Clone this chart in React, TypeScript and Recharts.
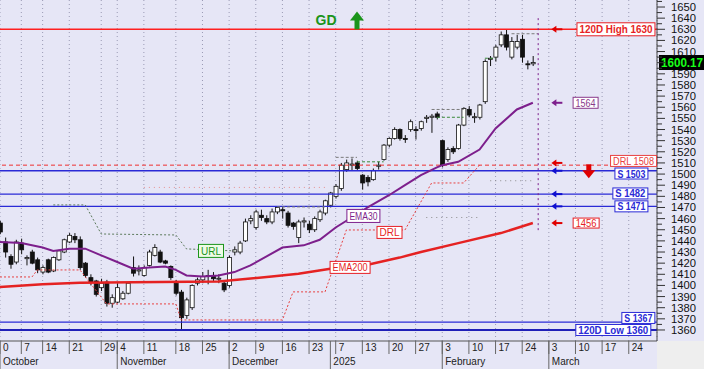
import React from "react";
import {
  ComposedChart,
  XAxis,
  YAxis,
  Bar,
  Line,
  CartesianGrid,
  ReferenceLine,
  ReferenceDot,
} from "recharts";

// daily candles, index 0 = first visible session (end of Sep 2024)
const opens = [
  1456, 1439, 1426, 1421, 1438, 1424, 1430, 1423, 1412, 1423,
  1413, 1423, 1430, 1439, 1444, 1441, 1420, 1407, 1404, 1398,
  1403, 1384, 1385, 1388, 1393, 1416, 1413, 1409, 1418, 1427,
  1430, 1422, 1417, 1402, 1394, 1373, 1380, 1402, 1405, 1408,
  1409, 1406, 1402, 1400, 1430, 1430, 1440, 1458, 1452, 1463,
  1460, 1457, 1466, 1468, 1465, 1456, 1443, 1457, 1455, 1450,
  1459, 1465, 1472, 1480, 1487, 1504, 1508, 1510, 1499, 1497,
  1495, 1507, 1513, 1526, 1532, 1540, 1532, 1540, 1540, 1541,
  1550, 1551, 1554, 1530, 1513, 1523, 1523, 1544, 1558, 1551,
  1551, 1565, 1603, 1605, 1616, 1625, 1605, 1614, 1621, 1599,
  1599,
];
const highs = [
  1458, 1443, 1428, 1441, 1442, 1427, 1432, 1425, 1418, 1424,
  1426, 1432, 1442, 1447, 1447, 1444, 1421, 1410, 1405, 1406,
  1405, 1392, 1402, 1395, 1403, 1426, 1418, 1418, 1432, 1437,
  1432, 1423, 1418, 1405, 1396, 1389, 1401, 1407, 1412, 1414,
  1412, 1410, 1404, 1427, 1435, 1440, 1460, 1463, 1468, 1468,
  1463, 1469, 1471, 1471, 1467, 1457, 1459, 1461, 1458, 1462,
  1468, 1477, 1484, 1491, 1510, 1513, 1514, 1512, 1500, 1499,
  1505, 1511, 1527, 1533, 1542, 1541, 1535, 1549, 1543, 1548,
  1553, 1554, 1556, 1531, 1524, 1525, 1545, 1560, 1561, 1555,
  1563, 1603, 1606, 1616, 1628, 1630, 1623, 1625, 1625, 1602,
  1606,
];
const lows = [
  1446, 1425, 1415, 1419, 1428, 1418, 1419, 1411, 1410, 1411,
  1412, 1422, 1429, 1438, 1438, 1414, 1407, 1400, 1390, 1395,
  1381, 1380, 1384, 1387, 1392, 1408, 1409, 1408, 1417, 1426,
  1420, 1419, 1405, 1391, 1360, 1370, 1378, 1400, 1402, 1401,
  1404, 1402, 1394, 1398, 1427, 1428, 1439, 1455, 1450, 1458,
  1455, 1455, 1464, 1460, 1452, 1450, 1438, 1452, 1447, 1448,
  1457, 1463, 1470, 1478, 1485, 1502, 1503, 1503, 1486, 1489,
  1494, 1504, 1512, 1524, 1531, 1530, 1528, 1538, 1531, 1539,
  1546, 1537, 1549, 1506, 1511, 1518, 1522, 1543, 1551, 1546,
  1549, 1563, 1597, 1601, 1614, 1611, 1603, 1612, 1600, 1594,
  1597,
];
const closes = [
  1448, 1430, 1419, 1439, 1432, 1425, 1420, 1414, 1416, 1412,
  1425, 1431, 1441, 1445, 1441, 1416, 1409, 1403, 1392, 1402,
  1384, 1389, 1398, 1393, 1402, 1411, 1414, 1416, 1430, 1434,
  1421, 1420, 1407, 1393, 1371, 1387, 1400, 1405, 1408, 1409,
  1406, 1406.5, 1396, 1425, 1432, 1438, 1457, 1460, 1466, 1461,
  1457, 1466, 1470, 1467, 1454, 1453, 1457, 1458, 1450, 1460,
  1466, 1476, 1483, 1489, 1508, 1510, 1509, 1505, 1492, 1493,
  1503, 1508, 1526, 1532, 1540, 1532, 1531, 1547, 1539, 1547,
  1551, 1552, 1551, 1508, 1522, 1520, 1544, 1559, 1553, 1551.5,
  1562, 1601, 1604, 1614, 1625, 1614, 1619, 1619, 1605, 1598.5,
  1600.17,
];

// [session index, value]
const ema30 = [
  [0, 1439], [4, 1438], [8, 1434], [10, 1431], [13, 1433], [16, 1433],
  [19, 1427], [22, 1421], [25, 1415], [28, 1416], [31, 1417], [33, 1414],
  [35, 1409], [38, 1408], [41, 1409], [44, 1412], [47, 1418], [53, 1434],
  [57, 1436], [60, 1441], [63, 1452], [66, 1461], [69, 1470], [73, 1481],
  [76, 1490], [79, 1499], [82, 1506], [83, 1508], [86, 1511], [90, 1522],
  [93, 1541], [97, 1558], [100, 1564],
];
const ema200 = [
  [0, 1398.5], [8, 1401], [15, 1402.5], [30, 1403], [41, 1403.5], [51, 1408],
  [56, 1410.5], [62, 1415], [69, 1418.5], [75, 1425], [79, 1430], [86, 1438],
  [94, 1447], [100, 1456],
];
const drl = [
  [0, 1407.6], [6, 1407.6], [7, 1413.9], [15, 1413.9], [20, 1383.4], [33, 1383.4],
  [34, 1369], [53, 1369], [55, 1394.2], [61, 1394.2], [65, 1449.8], [76, 1449.8],
  [81, 1492], [87, 1492], [90, 1508],
];
const url = [
  [10, 1472.3], [16, 1472.3], [19, 1446.2], [33, 1445.3], [35, 1432.8], [44, 1431],
];

// levels: 120D high, DRL, supports, 120D low
const levelValues = [1630, 1508, 1503, 1482, 1471, 1367, 1360];
const levelLabels = ["120D High 1630", "DRL 1508", "S 1503", "S 1482", "S 1471", "S 1367", "120D Low 1360"];
const lastPrice = 1600.17;
const ema30Last = 1564;
const ema200Last = 1456;

// [from, to, value]
const grayDash = [[52, 61, 1470.5], [63, 67, 1515], [81, 87, 1558], [96, 101, 1626]];
const greenDash = [[67, 72, 1511], [82, 87, 1551], [91, 93, 1604]];
const grayDots = [[80, 90, 1461], [92, 100, 1494]];
const pinkDots = [[27, 61, 1488]];

const weekTicks = [0, 4, 8, 13, 19, 22, 27, 33, 38, 43, 48, 53, 58, 63, 68, 73, 78, 83, 88, 93, 98, 103, 108, 113, 118];
const weekLabels = ["0", "7", "14", "21", "29", "4", "11", "18", "25", "2", "9", "16", "23", "7", "13", "20", "27", "3", "10", "17", "24", "3", "10", "17", "24"];
const monthTicks = [0, 22, 43, 62, 83, 103];
const monthLabels = ["October", "November", "December", "2025", "February", "March"];
const priceTicks = [
  1360, 1370, 1380, 1390, 1400, 1410, 1420, 1430, 1440, 1450, 1460, 1470, 1480, 1490, 1500,
  1510, 1520, 1530, 1540, 1550, 1560, 1570, 1580, 1590, 1600, 1610, 1620, 1630, 1640, 1650,
];

const candleData = opens.map((o, i) => ({
  k: i,
  open: o,
  high: highs[i],
  low: lows[i],
  close: closes[i],
}));
const toPts = (arr: number[][]) => arr.map(([k, v]) => ({ k, v }));

const FONT = "Arial, 'Liberation Sans', sans-serif";
const RED = "#e61e24";
const BLUE = "#2a2ad6";
const PURPLE = "#7d1f8c";
const GREEN = "#1b941b";

const Candle = (p: any) => {
  const { x, width, payload } = p;
  let { y, height } = p;
  if (height < 0) {
    y += height;
    height = -height;
  }
  const { open, close, high, low } = payload;
  const ratio = height / (high - low);
  const cx = x + width / 2;
  const yOf = (v: number) => y + (high - v) * ratio;
  const top = yOf(Math.max(open, close));
  const bot = yOf(Math.min(open, close));
  const up = close >= open;
  return (
    <g>
      <line x1={cx} x2={cx} y1={y} y2={y + height} stroke="#111" strokeWidth={1} />
      <rect
        x={x}
        y={top}
        width={width}
        height={Math.max(1, bot - top)}
        fill={up ? "#ffffff" : "#111111"}
        stroke="#111"
        strokeWidth={0.8}
      />
    </g>
  );
};

const YTick = (p: any) => {
  const { x, y, payload } = p;
  const v = payload.value;
  const major = v % 10 === 0;
  // the last-price box covers the 1600 label in the original
  const showText = major && v !== 1600;
  return (
    <g>
      <line x1={x} x2={x + (major ? 8 : 5)} y1={y} y2={y} stroke="#333" strokeWidth={1} />
      {showText && (
        <text x={x + 14} y={y + 4} fontFamily={FONT} fontSize={11} fill="#111" textLength={25} lengthAdjust="spacingAndGlyphs">
          {v}
        </text>
      )}
    </g>
  );
};

const WeekTick = (p: any) => {
  const { x, y, payload } = p;
  const i = weekTicks.indexOf(payload.value);
  return (
    <g>
      <line x1={x} x2={x} y1={y} y2={y + 13} stroke="#666" strokeWidth={1} />
      <text x={x + 3} y={y + 10} fontFamily={FONT} fontSize={10} fill="#222">
        {weekLabels[i] ?? ""}
      </text>
    </g>
  );
};

const MonthTick = (p: any) => {
  const { x, y, payload } = p;
  const i = monthTicks.indexOf(payload.value);
  return (
    <g>
      <line x1={x} x2={x} y1={y - 14} y2={y + 14} stroke="#666" strokeWidth={1} />
      <text x={x + 3} y={y + 10} fontFamily={FONT} fontSize={10} fill="#222">
        {monthLabels[i]}
      </text>
    </g>
  );
};

const tag = (text: string, color: string, w: number, h: number, bold = true, fill = "#ffffff") =>
  (p: any) => (
    <g>
      <rect x={p.cx - w / 2} y={p.cy - h / 2} width={w} height={h} fill={fill} stroke={color} strokeWidth={1} />
      <text
        x={p.cx}
        y={p.cy + 4}
        textAnchor="middle"
        fontFamily={FONT}
        fontSize={11}
        fontWeight={bold ? "bold" : "normal"}
        fill={color}
        textLength={w - 5}
        lengthAdjust="spacingAndGlyphs"
      >
        {text}
      </text>
    </g>
  );

const arrowLeft = (color: string) => (p: any) => (
  <g>
    <line x1={p.cx - 2} x2={p.cx + 5} y1={p.cy} y2={p.cy} stroke={color} strokeWidth={2} />
    <path d={`M${p.cx - 6},${p.cy} L${p.cx - 1},${p.cy - 3.5} L${p.cx - 1},${p.cy + 3.5} Z`} fill={color} />
  </g>
);

const arrowDown = (p: any) => (
  <g>
    <rect x={p.cx - 2.5} y={p.cy - 7} width={5} height={6} fill="#e00000" />
    <path d={`M${p.cx - 6.5},${p.cy - 1} L${p.cx + 6.5},${p.cy - 1} L${p.cx},${p.cy + 7} Z`} fill="#e00000" />
  </g>
);

const arrowUp = (p: any) => (
  <g>
    <rect x={p.cx - 2.5} y={p.cy - 1} width={5} height={10} fill={GREEN} />
    <path d={`M${p.cx - 7},${p.cy} L${p.cx + 7},${p.cy} L${p.cx},${p.cy - 9} Z`} fill={GREEN} />
  </g>
);

const gdText = (p: any) => (
  <text x={p.cx} y={p.cy + 5} textAnchor="middle" fontFamily={FONT} fontSize={14} fontWeight="bold" fill={GREEN}>
    GD
  </text>
);

const priceBox = (p: any) => (
  <g>
    <rect x={p.cx + 2} y={p.cy - 7.5} width={47} height={15} fill="#000" />
    <text x={p.cx + 4} y={p.cy + 4.5} fontFamily={FONT} fontSize={12} fontWeight="bold" fill="#19ff19" textLength={42} lengthAdjust="spacingAndGlyphs">
      {lastPrice.toFixed(2)}
    </text>
  </g>
);

const seg = (s: number[]) => [
  { x: s[0], y: s[2] },
  { x: s[1], y: s[2] },
];

export default function App() {
  return (
    <div style={{ position: "absolute", left: 0, top: 0, width: 704, height: 369, background: "#e6e6f6" }}>
      <div style={{ position: "absolute", left: 657, top: 341, width: 47, height: 28, background: "#eeeeee" }} />
      <div style={{ position: "absolute", left: 0, top: 0 }}>
        <ComposedChart width={704} height={369} data={candleData} margin={{ top: 0, right: 0, bottom: 0, left: 0 }}>
          <CartesianGrid horizontal={false} stroke="#9a9ab4" strokeDasharray="1 3" />
          <XAxis
            dataKey="k"
            type="number"
            domain={[0, 123.3]}
            allowDataOverflow
            ticks={weekTicks}
            interval={0}
            tick={<WeekTick />}
            tickLine={false}
            tickSize={0}
            tickMargin={0}
            height={14}
            axisLine={{ stroke: "#555" }}
          />
          <XAxis
            xAxisId="month"
            dataKey="k"
            type="number"
            domain={[0, 123.3]}
            allowDataOverflow
            ticks={monthTicks}
            interval={0}
            tick={<MonthTick />}
            tickLine={false}
            tickSize={0}
            tickMargin={0}
            height={14}
            axisLine={false}
          />
          <YAxis
            orientation="right"
            type="number"
            domain={[1350.1, 1656.3]}
            allowDataOverflow
            ticks={priceTicks.flatMap((t) => [t, t + 5])}
            interval={0}
            tick={<YTick />}
            tickLine={false}
            tickSize={0}
            tickMargin={0}
            width={47}
            axisLine={{ stroke: "#444" }}
          />

          {/* horizontal levels */}
          <ReferenceLine y={levelValues[0]} stroke="#ff2020" strokeWidth={1.6} />
          <ReferenceLine y={levelValues[1]} stroke="#ee3030" strokeWidth={1} strokeDasharray="4 3" />
          <ReferenceLine y={levelValues[2]} stroke={BLUE} strokeWidth={1.4} />
          <ReferenceLine y={levelValues[3]} stroke={BLUE} strokeWidth={1.4} />
          <ReferenceLine y={levelValues[4]} stroke={BLUE} strokeWidth={1.4} />
          <ReferenceLine y={levelValues[5]} stroke={BLUE} strokeWidth={1.2} />
          <ReferenceLine y={levelValues[6]} stroke="#2020b8" strokeWidth={2} />

          {pinkDots.map((s, i) => (
            <ReferenceLine key={`pd${i}`} segment={seg(s)} stroke="#e89090" strokeDasharray="1 4" />
          ))}
          {grayDots.map((s, i) => (
            <ReferenceLine key={`gd${i}`} segment={seg(s)} stroke="#8a8a8a" strokeDasharray="1 4" />
          ))}
          {grayDash.map((s, i) => (
            <ReferenceLine key={`gs${i}`} segment={seg(s)} stroke="#7a7a7a" strokeDasharray="3 2" />
          ))}
          {greenDash.map((s, i) => (
            <ReferenceLine key={`gr${i}`} segment={seg(s)} stroke="#3a8a3a" strokeDasharray="3 2" />
          ))}
          <ReferenceLine
            segment={[
              { x: 101, y: 1640 },
              { x: 101, y: 1447 },
            ]}
            stroke={PURPLE}
            strokeDasharray="2 3"
          />

          <Line data={toPts(drl)} dataKey="v" stroke="#e84040" strokeWidth={1} strokeDasharray="2 2" dot={false} activeDot={false} isAnimationActive={false} />
          <Line data={toPts(url)} dataKey="v" stroke="#5c7a5c" strokeWidth={1} strokeDasharray="2 2" dot={false} activeDot={false} isAnimationActive={false} />
          <Line data={toPts(ema200)} dataKey="v" stroke="#e52222" strokeWidth={2.5} dot={false} activeDot={false} isAnimationActive={false} />
          <Line data={toPts(ema30)} dataKey="v" stroke={PURPLE} strokeWidth={2} dot={false} activeDot={false} isAnimationActive={false} />

          <Bar
            dataKey={(d: any) => [d.low, d.high]}
            barSize={4}
            shape={(p: any) => <Candle {...p} />}
            isAnimationActive={false}
          />

          {/* line labels */}
          <ReferenceDot x={68.2} y={1462.4} r={0} ifOverflow="visible" shape={tag("EMA30", PURPLE, 33, 13, false)} />
          <ReferenceDot x={65.7} y={1416.2} r={0} ifOverflow="visible" shape={tag("EMA200", RED, 40, 12, false)} />
          <ReferenceDot x={73.1} y={1447.6} r={0} ifOverflow="visible" shape={tag("DRL", RED, 25, 12, false)} />
          <ReferenceDot x={39.6} y={1431} r={0} ifOverflow="visible" shape={tag("URL", GREEN, 25, 13, false, "#eefbe6")} />

          {/* level tags */}
          <ReferenceDot x={115.6} y={levelValues[0]} r={0} ifOverflow="visible" shape={tag(levelLabels[0], RED, 78, 13)} />
          <ReferenceDot x={118.9} y={1511.8} r={0} ifOverflow="visible" shape={tag(levelLabels[1], "#e84040", 46, 11, false)} />
          <ReferenceDot x={118.5} y={1500.5} r={0} ifOverflow="visible" shape={tag(levelLabels[2], BLUE, 33, 11)} />
          <ReferenceDot x={118.3} y={1482.6} r={0} ifOverflow="visible" shape={tag(levelLabels[3], BLUE, 35, 11)} />
          <ReferenceDot x={118.5} y={1471} r={0} ifOverflow="visible" shape={tag(levelLabels[4], BLUE, 33, 11)} />
          <ReferenceDot x={119.8} y={1370.8} r={0} ifOverflow="visible" shape={tag(levelLabels[5], BLUE, 33, 11)} />
          <ReferenceDot x={115.1} y={levelValues[6]} r={0} ifOverflow="visible" shape={tag(levelLabels[6], BLUE, 75, 11)} />
          <ReferenceDot x={109.9} y={ema30Last} r={0} ifOverflow="visible" shape={tag(String(ema30Last), "#8a3a8a", 25, 11, false)} />
          <ReferenceDot x={110} y={ema200Last} r={0} ifOverflow="visible" shape={tag(String(ema200Last), RED, 26, 10, false)} />

          {/* arrows */}
          <ReferenceDot x={104.6} y={levelValues[0]} r={0} ifOverflow="visible" shape={arrowLeft("#e00000")} />
          <ReferenceDot x={104.6} y={ema30Last} r={0} ifOverflow="visible" shape={arrowLeft(PURPLE)} />
          <ReferenceDot x={104.6} y={1510} r={0} ifOverflow="visible" shape={arrowLeft("#e00000")} />
          <ReferenceDot x={104.6} y={levelValues[2]} r={0} ifOverflow="visible" shape={arrowLeft("#1010d0")} />
          <ReferenceDot x={104.6} y={levelValues[3]} r={0} ifOverflow="visible" shape={arrowLeft("#1010d0")} />
          <ReferenceDot x={104.6} y={levelValues[4]} r={0} ifOverflow="visible" shape={arrowLeft("#1010d0")} />
          <ReferenceDot x={104.6} y={ema200Last} r={0} ifOverflow="visible" shape={arrowLeft("#e00000")} />
          <ReferenceDot x={110.5} y={1502.5} r={0} ifOverflow="visible" shape={arrowDown} />
          <ReferenceDot x={67} y={1638} r={0} ifOverflow="visible" shape={arrowUp} />
          <ReferenceDot x={61.2} y={1638.3} r={0} ifOverflow="visible" shape={gdText} />
          <ReferenceDot x={123.3} y={lastPrice} r={0} ifOverflow="visible" shape={priceBox} />
        </ComposedChart>
      </div>
    </div>
  );
}
